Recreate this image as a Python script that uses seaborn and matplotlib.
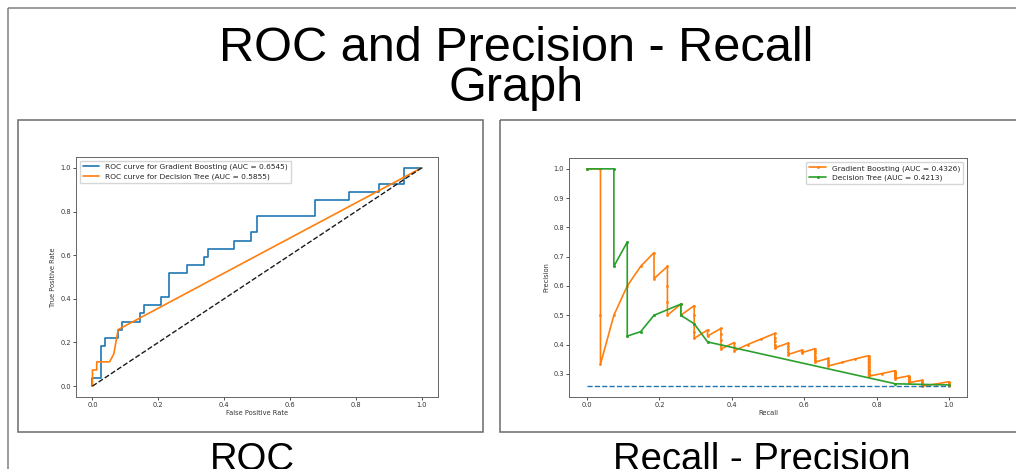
import matplotlib
matplotlib.use("Agg")
import matplotlib.pyplot as plt
import seaborn as sns
from matplotlib.patches import Rectangle

# ---------------------------
# Data
# ---------------------------

# ROC - Gradient Boosting (step curve corners)
gb_fpr = [0.000, 0.000, 0.026, 0.026, 0.039, 0.039, 0.078, 0.078, 0.091, 0.091,
          0.143, 0.143, 0.156, 0.156, 0.208, 0.208, 0.234, 0.234, 0.286, 0.286,
          0.338, 0.338, 0.351, 0.351, 0.429, 0.429, 0.481, 0.481, 0.500, 0.500,
          0.675, 0.675, 0.779, 0.779, 0.870, 0.870, 0.948, 0.948, 1.000]
gb_tpr = [0.000, 0.037, 0.037, 0.185, 0.185, 0.222, 0.222, 0.259, 0.259, 0.296,
          0.296, 0.333, 0.333, 0.370, 0.370, 0.407, 0.407, 0.519, 0.519, 0.556,
          0.556, 0.593, 0.593, 0.630, 0.630, 0.667, 0.667, 0.704, 0.704, 0.778,
          0.778, 0.852, 0.852, 0.889, 0.889, 0.926, 0.926, 1.000, 1.000]

# ROC - Decision Tree
dt_fpr = [0.000, 0.000, 0.013, 0.013, 0.052, 0.065, 0.078, 1.000]
dt_tpr = [0.000, 0.074, 0.074, 0.111, 0.111, 0.148, 0.259, 1.000]

gb_roc_label = "ROC curve for Gradient Boosting (AUC = 0.6545)"
dt_roc_label = "ROC curve for Decision Tree (AUC = 0.5855)"

# Precision-Recall - Gradient Boosting
gb_recall = [0.000, 0.037, 0.037, 0.037, 0.074, 0.111, 0.148, 0.185, 0.185, 0.222,
             0.222, 0.222, 0.222, 0.259, 0.259, 0.296, 0.296, 0.296, 0.296, 0.296,
             0.333, 0.333, 0.370, 0.370, 0.370, 0.370, 0.370, 0.407, 0.407, 0.407,
             0.444, 0.481, 0.519, 0.519, 0.519, 0.519, 0.519, 0.556, 0.556, 0.556,
             0.556, 0.556, 0.593, 0.593, 0.630, 0.630, 0.630, 0.630, 0.630, 0.630,
             0.630, 0.667, 0.667, 0.667, 0.667, 0.667, 0.704, 0.741, 0.778, 0.778,
             0.778, 0.778, 0.778, 0.778, 0.778, 0.778, 0.778, 0.778, 0.778, 0.778,
             0.778, 0.778, 0.778, 0.815, 0.852, 0.852, 0.852, 0.852, 0.852, 0.852,
             0.852, 0.852, 0.889, 0.889, 0.889, 0.889, 0.889, 0.889, 0.889, 0.889,
             0.926, 0.926, 0.926, 0.926, 0.926, 0.926, 0.926, 0.926, 0.963, 1.000,
             1.000, 1.000, 1.000, 1.000, 1.000]
gb_precision = [1.000, 1.000, 0.500, 0.333, 0.500, 0.600, 0.667, 0.714, 0.625, 0.667,
                0.600, 0.545, 0.500, 0.538, 0.500, 0.533, 0.500, 0.471, 0.444, 0.421,
                0.450, 0.429, 0.455, 0.435, 0.417, 0.400, 0.385, 0.407, 0.393, 0.379,
                0.400, 0.419, 0.438, 0.424, 0.412, 0.400, 0.389, 0.405, 0.395, 0.385,
                0.375, 0.366, 0.381, 0.372, 0.386, 0.378, 0.370, 0.362, 0.354, 0.347,
                0.340, 0.353, 0.346, 0.340, 0.333, 0.327, 0.339, 0.351, 0.362, 0.356,
                0.350, 0.344, 0.339, 0.333, 0.328, 0.323, 0.318, 0.313, 0.309, 0.304,
                0.300, 0.296, 0.292, 0.301, 0.311, 0.307, 0.303, 0.299, 0.295, 0.291,
                0.288, 0.284, 0.293, 0.289, 0.286, 0.282, 0.279, 0.276, 0.273, 0.270,
                0.278, 0.275, 0.272, 0.269, 0.266, 0.263, 0.260, 0.258, 0.265, 0.273,
                0.270, 0.267, 0.264, 0.262, 0.260]

# Precision-Recall - Decision Tree
dt_recall = [0.000, 0.074, 0.074, 0.111, 0.111, 0.148, 0.185, 0.259, 0.259, 0.296,
             0.333, 0.852, 1.000]
dt_precision = [1.000, 1.000, 0.667, 0.750, 0.429, 0.444, 0.500, 0.538, 0.500, 0.471,
                0.409, 0.266, 0.262]

no_skill = 0.26
gb_pr_label = "Gradient Boosting (AUC = 0.4326)"
dt_pr_label = "Decision Tree (AUC = 0.4213)"

title = "ROC and Precision - Recall\nGraph"
caption_left = "ROC"
caption_right = "Recall - Precision"

# ---------------------------
# Style
# ---------------------------
sns.set_theme(style="ticks")
plt.rcParams["font.family"] = ["DejaVu Sans"]

W, H = 1016, 469
fig = plt.figure(figsize=(W / 100, H / 100), dpi=100)


def px_axes(x0, y0, x1, y1):
    # pixel box (top-left origin) -> figure axes
    return fig.add_axes([x0 / W, 1 - y1 / H, (x1 - x0) / W, (y1 - y0) / H])


# slide background with boxes and texts
bg = fig.add_axes([0, 0, 1, 1], zorder=0)
bg.set_xlim(0, W)
bg.set_ylim(H, 0)
bg.axis("off")

bg.add_patch(Rectangle((8, 8), 1040, 480, fill=False, edgecolor="#808080", linewidth=1.1))
bg.add_patch(Rectangle((18, 120), 465, 312, fill=False, edgecolor="#6a6a6a", linewidth=1.1))
bg.add_patch(Rectangle((500, 120), 560, 312, fill=False, edgecolor="#6a6a6a", linewidth=1.1))

slide_font = "Liberation Sans"
bg.text(516, 101, title, ha="center", va="baseline", multialignment="center",
        fontsize=35, linespacing=0.86, family=slide_font, color="black")
bg.text(252, 470, caption_left, ha="center", va="baseline", fontsize=27.5,
        family=slide_font, color="black")
bg.text(762, 470, caption_right, ha="center", va="baseline", fontsize=27.5,
        family=slide_font, color="black")


def style_axes(ax):
    for s in ax.spines.values():
        s.set_color("#666666")
        s.set_linewidth(0.7)
    ax.tick_params(labelsize=4.8, length=2, width=0.6, pad=1.5,
                   colors="#333333")
    ax.set_facecolor("white")


# ---------------------------
# ROC plot
# ---------------------------
ax1 = px_axes(76, 157, 438, 397)
ax1.set_zorder(2)
sns.lineplot(x=gb_fpr, y=gb_tpr, sort=False, estimator=None, ax=ax1,
             color="#1f77b4", linewidth=1.2, label=gb_roc_label)
sns.lineplot(x=dt_fpr, y=dt_tpr, sort=False, estimator=None, ax=ax1,
             color="#ff7f0e", linewidth=1.2, label=dt_roc_label)
ax1.plot([0, 1], [0, 1], "k--", linewidth=1.0)
ax1.set_xlabel("False Positive Rate", fontsize=4.8, labelpad=1.5, color="#333333")
ax1.set_ylabel("True Positive Rate", fontsize=4.8, labelpad=3, color="#333333")
ax1.set_xticks([0.0, 0.2, 0.4, 0.6, 0.8, 1.0])
ax1.set_yticks([0.0, 0.2, 0.4, 0.6, 0.8, 1.0])
style_axes(ax1)
ax1.legend(loc="upper left", fontsize=5.4, handlelength=2.2, borderpad=0.4,
           labelspacing=0.4, framealpha=0.8, edgecolor="#cccccc")

# ---------------------------
# Precision - Recall plot
# ---------------------------
ax2 = px_axes(569, 158, 967, 397)
ax2.set_zorder(2)
sns.lineplot(x=gb_recall, y=gb_precision, sort=False, estimator=None, ax=ax2,
             color="#ff7f0e", linewidth=1.2, marker="o", markersize=2,
             markeredgewidth=0, label=gb_pr_label)
sns.lineplot(x=dt_recall, y=dt_precision, sort=False, estimator=None, ax=ax2,
             color="#2ca02c", linewidth=1.2, marker="o", markersize=2.2,
             markeredgewidth=0, label=dt_pr_label)
ax2.plot([0, 1], [no_skill, no_skill], linestyle="--", color="#1f77b4", linewidth=1.0)
ax2.set_xlabel("Recall", fontsize=4.8, labelpad=1.5, color="#333333")
ax2.set_ylabel("Precision", fontsize=4.8, labelpad=3, color="#333333")
ax2.set_xticks([0.0, 0.2, 0.4, 0.6, 0.8, 1.0])
ax2.set_yticks([0.3, 0.4, 0.5, 0.6, 0.7, 0.8, 0.9, 1.0])
style_axes(ax2)
ax2.legend(loc="upper right", fontsize=5.4, handlelength=2.2, borderpad=0.4,
           labelspacing=0.4, framealpha=0.8, edgecolor="#cccccc")

plt.savefig("out.png", dpi=100)
plt.close()
